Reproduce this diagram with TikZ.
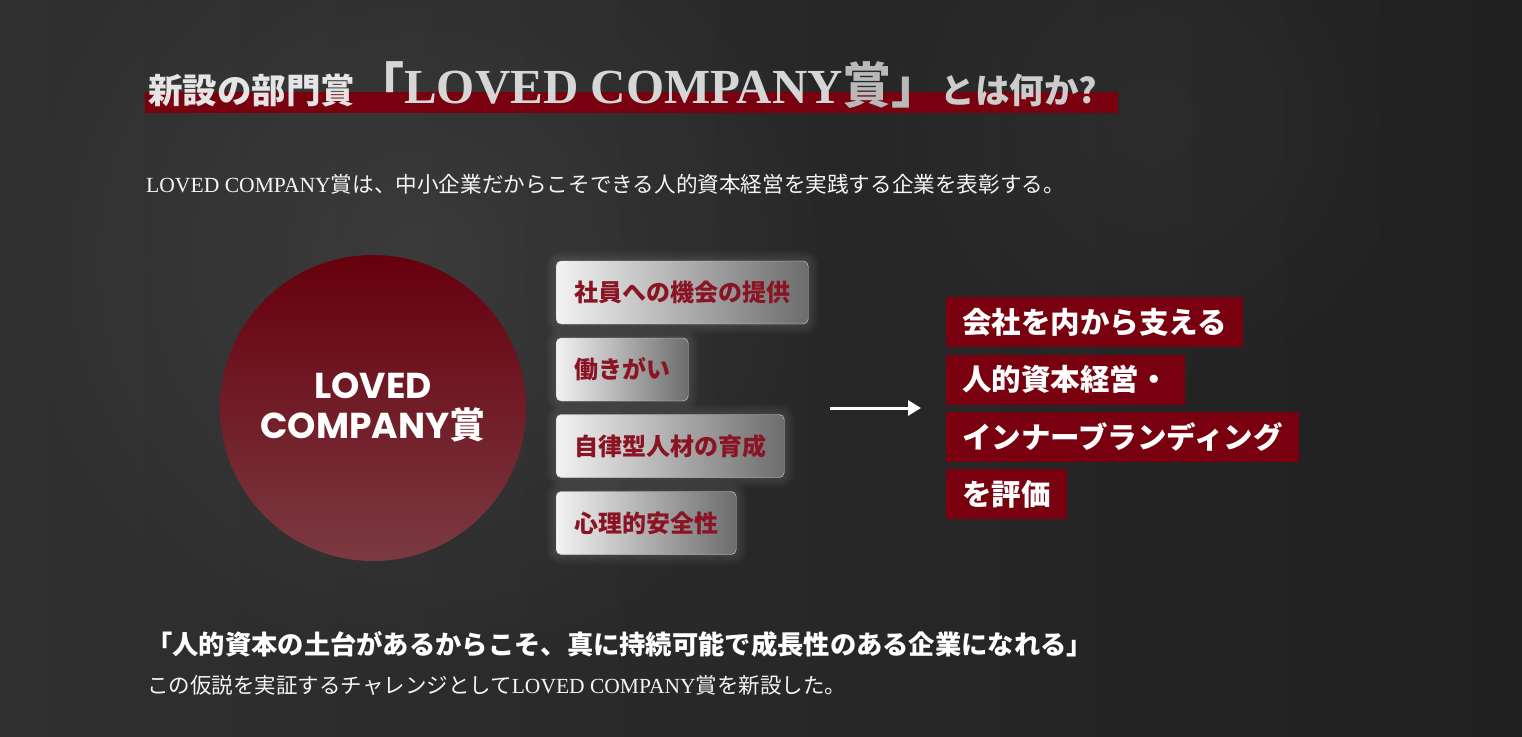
\documentclass[tikz,border=0pt]{standalone}
\usepackage{fontspec}
\setmainfont{Noto Sans CJK JP}
\newfontfamily\lserif{Liberation Serif}
\newfontfamily\pop{Poppins}
\usetikzlibrary{arrows.meta,positioning,backgrounds,fadings,calc}
\newcommand{\lc}{{\lserif LOVED COMPANY}}
\definecolor{bgdark}{HTML}{202020}
\definecolor{bglight}{HTML}{303030}
\definecolor{awardred}{HTML}{78000F}
\definecolor{topicred}{HTML}{8A1424}
\tikzfading[name=softglow, inner color=transparent!0, outer color=transparent!100]

\begin{document}
\begin{tikzpicture}[
  x=1pt, y=-1pt,
  topic/.style={rectangle, rounded corners=5pt, draw=white!70!gray,
    left color=white!90!gray, right color=gray!85!black,
    minimum height=63pt, inner xsep=18pt, anchor=west,
    text=topicred, font=\fontsize{24}{24}\selectfont\bfseries},
  evalbox/.style={rectangle, fill=awardred, text=white, anchor=north west,
    minimum height=50pt, inner xsep=16pt,
    font=\fontsize{29.5}{29.5}\selectfont\bfseries},
  flow/.style={-{Triangle[length=13pt,width=15pt]}, line width=3pt, white}
]
\useasboundingbox (0,0) rectangle (1522,736);

% background
\begin{scope}[on background layer]
\fill[left color=bglight, right color=bgdark] (0,0) rectangle (1522,736);
\fill[white, opacity=0.07, path fading=softglow] (420,260) circle (430);
\fill[white, opacity=0.04, path fading=softglow] (1150,120) circle (300);
\end{scope}

% title
\fill[awardred] (145,92) rectangle (1118,113);
\node[anchor=base west, inner sep=0pt] (title) at (148,103)
  {\bfseries\fontsize{34.5}{34.5}\selectfont\textcolor{white!80!gray}{新設の部門賞}%
   \fontsize{49}{49}\selectfont\textcolor{white!68!gray}{「\lc}%
   \textcolor{white!45!gray}{賞」}%
   \fontsize{34.5}{34.5}\selectfont\textcolor{white!60!gray}{とは何か?}};

\node[anchor=base west, inner sep=0pt, text=white!92!gray,
  font=\fontsize{21.6}{21.6}\selectfont] (lead) at (146,192)
  {\lc 賞は、中小企業だからこそできる人的資本経営を実践する企業を表彰する。};

% award circle
\node[circle, minimum size=306pt, top color=awardred!85!black,
  bottom color=awardred!55!gray, text=white, align=center,
  font=\fontsize{36}{40}\selectfont\bfseries] (award) at (373,408)
  {{\pop LOVED}\\{\pop COMPANY}賞};

% topics
\node[topic] (t1) at (556,292.5) {社員への機会の提供};
\node[topic] (t2) at (556,369.5) {働きがい};
\node[topic] (t3) at (556,446) {自律型人材の育成};
\node[topic] (t4) at (556,523) {心理的安全性};

\begin{scope}[on background layer]
\foreach \n in {t1,t2,t3,t4}{
  \foreach \i in {2,4,...,10}
    \fill[white, opacity=0.025, rounded corners=5pt+\i pt]
      ($(\n.south west)+(-\i,\i)$) rectangle ($(\n.north east)+(\i,-\i)$);
}
\end{scope}

% arrow
\coordinate (arrs) at (830,408);
\coordinate (arre) at (921,408);
\draw[flow] (arrs) -- (arre);

% evaluation
\node[evalbox] (e1) at (946,297) {会社を内から支える};
\node[evalbox] (e2) at (946,354.5) {人的資本経営・};
\node[evalbox] (e3) at (946,412) {インナーブランディング};
\node[evalbox] (e4) at (946,469) {を評価};

% bottom
\node[anchor=base west, inner sep=0pt, text=white,
  font=\fontsize{26.3}{26.3}\selectfont\bfseries] (claim) at (146,654)
  {「人的資本の土台があるからこそ、真に持続可能で成長性のある企業になれる」};
\node[anchor=base west, inner sep=0pt, text=white!92!gray,
  font=\fontsize{21.5}{21.5}\selectfont] (close) at (147,693)
  {この仮説を実証するチャレンジとして\lc 賞を新設した。};
\end{tikzpicture}
\end{document}
